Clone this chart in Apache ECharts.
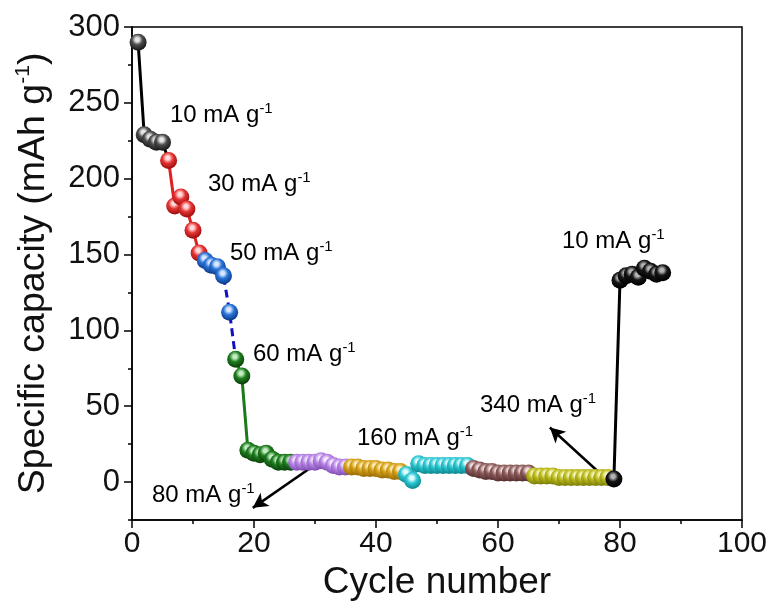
<!DOCTYPE html>
<html>
<head>
<meta charset="utf-8">
<script src="https://cdn.jsdelivr.net/npm/echarts@6/dist/echarts.min.js"></script>
<style>
  html, body { margin: 0; padding: 0; background: #fff; }
  #chart { width: 775px; height: 610px; }
</style>
</head>
<body>
<div id="chart"></div>
<script>
// Rate capability: specific capacity per cycle at each current density
const cyc10a  = [1, 2, 3, 4, 5];
const cap10a  = [290, 229, 226, 224, 224];
const cyc30   = [6, 7, 8, 9, 10, 11];
const cap30   = [212, 182, 188, 180, 166, 151];
const cyc50   = [12, 13, 14, 15, 16];
const cap50   = [146, 143, 142, 136, 112];
const cyc60   = [17, 18, 19, 20, 21, 22, 23, 24, 25, 26];
const cap60   = [81, 70, 21, 19, 18, 19, 15, 13, 13, 13];
const cyc80   = [27, 28, 29, 30, 31, 32, 33, 34, 35];
const cap80   = [13, 13, 13, 13, 14, 13, 11, 10, 10];
const cyc100  = [36, 37, 38, 39, 40, 41, 42, 43, 44];
const cap100  = [10, 10, 9, 9, 9, 8, 8, 7, 7];
const cyc160  = [45, 46, 47, 48, 49, 50, 51, 52, 53, 54, 55];
const cap160  = [5, 1, 12, 11, 11, 11, 11, 11, 11, 11, 11];
const cyc200  = [56, 57, 58, 59, 60, 61, 62, 63, 64, 65];
const cap200  = [9, 8, 7, 7, 6, 6, 6, 6, 6, 6];
const cyc340  = [66, 67, 68, 69, 70, 71, 72, 73, 74, 75, 76, 77, 78];
const cap340  = [4, 4, 4, 4, 3, 3, 3, 3, 3, 3, 3, 3, 3];
const cyc10b  = [79, 80, 81, 82, 83, 84, 85, 86, 87];
const cap10b  = [2, 133, 136, 137, 135, 141, 139, 137, 138];

const xTicks = [0, 20, 40, 60, 80, 100];
const yTicks = [0, 50, 100, 150, 200, 250, 300];
const yMinorTicks = [-25, 25, 75, 125, 175, 225, 275];

const FONT = 'Liberation Sans, Arial, sans-serif';

// Per-step marker colours and connecting-line styles
const steps = [
  { cyc: cyc10a, cap: cap10a, base: '#4d4d4d', light: '#e6e6e6', dark: '#1a1a1a', line: '#000000', dash: 'solid' },
  { cyc: cyc30,  cap: cap30,  base: '#e63535', light: '#ffd8d8', dark: '#a00e0e', line: '#e02020', dash: 'solid' },
  { cyc: cyc50,  cap: cap50,  base: '#2a74d8', light: '#d6e8ff', dark: '#0c3c8c', line: '#1010c0', dash: [8, 5] },
  { cyc: cyc60,  cap: cap60,  base: '#1f7d1f', light: '#c2ecc2', dark: '#0a440a', line: '#1a7a1a', dash: 'solid' },
  { cyc: cyc80,  cap: cap80,  base: '#b884e6', light: '#f6ecff', dark: '#8250b3', line: '#b884e6', dash: 'solid' },
  { cyc: cyc100, cap: cap100, base: '#d6a21a', light: '#fff0c6', dark: '#9a6e05', line: '#d6a21a', dash: 'solid' },
  { cyc: cyc160, cap: cap160, base: '#2cc8d2', light: '#e0fcff', dark: '#0e8a92', line: '#2cc8d2', dash: 'solid' },
  { cyc: cyc200, cap: cap200, base: '#8e5c5c', light: '#f1dede', dark: '#573030', line: '#8e5c5c', dash: 'solid' },
  { cyc: cyc340, cap: cap340, base: '#bcbc1e', light: '#fafac8', dark: '#7e7e08', line: '#bcbc1e', dash: 'solid' },
  { cyc: cyc10b, cap: cap10b, base: '#151515', light: '#b5b5b5', dark: '#000000', line: '#000000', dash: 'solid' }
];

function ball(s) {
  return {
    type: 'radial', x: 0.45, y: 0.35, r: 0.62,
    colorStops: [
      { offset: 0, color: s.light },
      { offset: 0.18, color: s.light },
      { offset: 0.5, color: s.base },
      { offset: 1, color: s.dark }
    ]
  };
}

const series = steps.map(function (s, i) {
  const data = s.cyc.map(function (c, k) { return [c, s.cap[k]]; });
  const next = steps[i + 1];
  if (next) {
    // carry the line on to the first point of the following step
    data.push({ value: [next.cyc[0], next.cap[0]], symbol: 'none' });
  }
  return {
    type: 'line',
    data: data,
    symbol: 'circle',
    symbolSize: 17,
    showSymbol: true,
    itemStyle: { color: ball(s), borderWidth: 0 },
    lineStyle: { color: s.line, width: 3, type: s.dash },
    z: 2 + i,
    animation: false
  };
});

// Arrows pointing from the labels to the 80 and 340 mA g-1 runs
series.push({
  type: 'line',
  data: [],
  markLine: {
    silent: true,
    symbol: ['none', 'arrow'],
    symbolSize: [12, 15],
    label: { show: false },
    lineStyle: { color: '#000', width: 2.5, type: 'solid' },
    data: [
      [{ coord: [31.3, 15] }, { coord: [19.8, -17] }],
      [{ coord: [76.4, 7] }, { coord: [68.5, 36] }]
    ]
  },
  z: 20,
  animation: false
});

const rich = {
  t: { fontFamily: FONT, fontSize: 24, color: '#111' },
  s: { fontFamily: FONT, fontSize: 15, color: '#111', verticalAlign: 'top', padding: [0, 0, 13, 0] }
};
function note(x, y, rate) {
  return {
    type: 'text', left: x, top: y, z: 30,
    style: {
      text: '{t|' + rate + ' mA g}{s|-1}',
      rich: rich
    }
  };
}

const chart = echarts.init(document.getElementById('chart'), null, { renderer: 'canvas' });
chart.setOption({
  backgroundColor: '#fff',
  animation: false,
  grid: { left: 132, right: 33, top: 27, bottom: 90, show: true, borderColor: '#000', borderWidth: 1.5, backgroundColor: 'transparent' },
  xAxis: {
    type: 'value', min: 0, max: 100, interval: 20,
    name: 'Cycle number', nameLocation: 'middle', nameGap: 40,
    nameTextStyle: { fontFamily: FONT, fontSize: 37, color: '#111' },
    axisLine: { show: true, onZero: false, lineStyle: { color: '#000', width: 1.5 } },
    axisTick: { show: true, inside: false, length: 8, lineStyle: { color: '#000', width: 1.5 } },
    minorTick: { show: true, splitNumber: 2, length: 4, lineStyle: { color: '#000', width: 1.5 } },
    axisLabel: { fontFamily: FONT, fontSize: 30, color: '#111', margin: 9, customValues: xTicks },
    splitLine: { show: false }
  },
  yAxis: [{
    type: 'value', min: -25, max: 300, interval: 25,
    name: 'Specific capacity (mAh g{s|-1})', nameLocation: 'middle', nameGap: 78,
    nameTextStyle: { fontFamily: FONT, fontSize: 37.5, color: '#111',
      rich: { s: { fontFamily: FONT, fontSize: 21, color: '#111', verticalAlign: 'top', padding: [0, 0, 20, 0] } } },
    axisLine: { show: true, onZero: false, lineStyle: { color: '#000', width: 1.5 } },
    axisTick: { show: true, inside: false, length: 8, lineStyle: { color: '#000', width: 1.5 }, customValues: yTicks },
    axisLabel: { fontFamily: FONT, fontSize: 31, color: '#111', margin: 12, customValues: yTicks },
    splitLine: { show: false }
  }, {
    // short ticks halfway between the labelled ones
    type: 'value', min: -25, max: 300, interval: 25, position: 'left',
    axisLine: { show: false },
    axisTick: { show: true, inside: false, length: 4, lineStyle: { color: '#000', width: 1.5 }, customValues: yMinorTicks },
    axisLabel: { show: false },
    splitLine: { show: false }
  }],
  graphic: [
    note(170, 101, '10'),
    note(208, 170, '30'),
    note(230, 239, '50'),
    note(253, 340, '60'),
    note(152, 481, '80'),
    note(357, 424, '160'),
    note(480, 391, '340'),
    note(562, 227, '10')
  ],
  series: series
});
</script>
</body>
</html>
